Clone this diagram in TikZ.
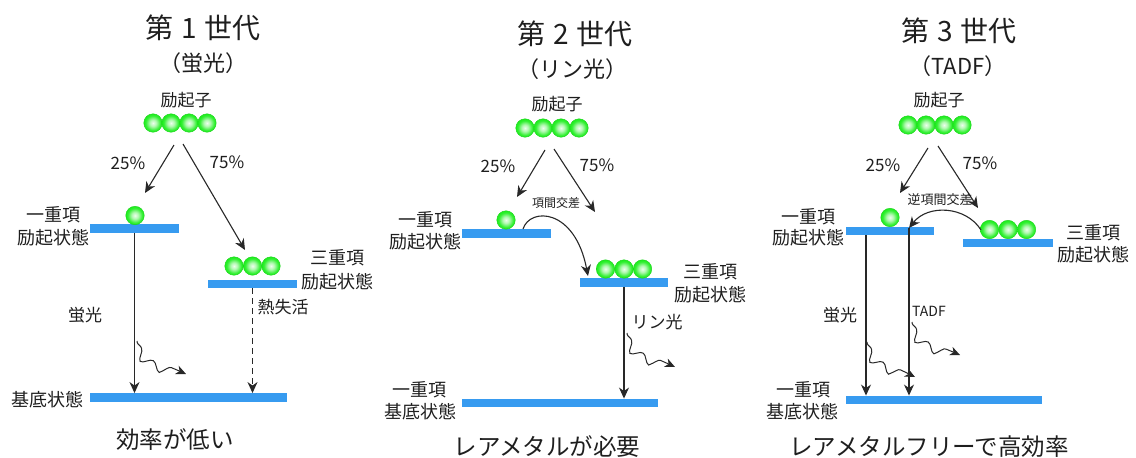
\documentclass[tikz,border=0pt]{standalone}
\usepackage{fontspec}
\setmainfont{Noto Sans CJK JP}
\usetikzlibrary{arrows.meta,decorations.pathmorphing}
\definecolor{barblue}{RGB}{55,155,240}
\definecolor{excg}{RGB}{30,238,30}
\definecolor{txt}{RGB}{30,30,30}
\definecolor{linec}{RGB}{40,40,40}
\pgfdeclareradialshading{excball}{\pgfpoint{0bp}{0bp}}{color(0bp)=(excg!8!white); color(9bp)=(excg!35!white); color(20bp)=(excg!92!white); color(25bp)=(excg); color(50bp)=(excg)}
\tikzset{
  bar/.style={fill=barblue, draw=none, inner sep=0pt, minimum height=8.5pt},
  exc/.style={circle, inner sep=0pt, minimum size=18.5pt, shading=excball, draw=excg!88!black, line width=0.4pt},
  title/.style={text=txt, inner sep=0pt, font=\fontsize{28}{30}\selectfont},
  subtitle/.style={text=txt, inner sep=0pt, font=\fontsize{22}{24}\selectfont},
  lbl/.style={text=txt, inner sep=0pt, font=\fontsize{18}{20}\selectfont},
  mid/.style={text=txt, inner sep=0pt, font=\fontsize{17}{19}\selectfont},
  small/.style={text=txt, inner sep=0pt, font=\fontsize{12}{14}\selectfont},
  concl/.style={text=txt, inner sep=0pt, font=\fontsize{23.5}{26}\selectfont},
  arr/.style={draw=linec, line width=1.1pt, -{Stealth[length=11pt,width=10pt,inset=3.5pt]}},
  darr/.style={arr, dashed, dash pattern=on 6pt off 4pt},
  wave/.style={draw=linec, line width=1pt, decorate,
    decoration={snake, amplitude=4pt, segment length=21pt, pre length=1pt, post length=8pt},
    -{Stealth[length=10pt,width=9pt,inset=3pt]}},
}
\newcommand{\tsp}{\hspace{8pt}}
\begin{document}
\begin{tikzpicture}[x=1pt,y=-1pt]
\useasboundingbox (0,0) rectangle (1136,458);

%================ Panel 1 =================
\node[title] (T1) at (203,28) {第\tsp 1\tsp 世代};
\node[subtitle] (ST1) at (203,63) {（蛍光）};
\node[mid] (EX1) at (186,100) {励起子};
\node[exc] (c1a) at (153,123) {};
\node[exc] (c1b) at (171,123) {};
\node[exc] (c1c) at (189,123) {};
\node[exc] (c1d) at (207,123) {};
\coordinate (a1s) at (174,145);
\coordinate (a1e) at (145,193);
\coordinate (b1s) at (183,144);
\coordinate (b1e) at (245,250);
\draw[arr] (a1s) -- (a1e);
\draw[arr] (b1s) -- (b1e);
\node[mid] (p25a) at (128,163) {25\%};
\node[mid] (p75a) at (227,162) {75\%};

\node[bar, minimum width=89pt] (S1) at (134.5,228.5) {};
\node[exc] (s1c) at (135,215.5) {};
\node[lbl] (S1l1) at (53,215) {一重項};
\node[lbl] (S1l2) at (53,238) {励起状態};

\node[bar, minimum width=89pt] (T1b) at (252.5,284) {};
\node[exc] (t1a) at (234,266) {};
\node[exc] (t1b) at (252.5,266) {};
\node[exc] (t1c) at (271,266) {};
\node[lbl] (T1l1) at (337,258) {三重項};
\node[lbl] (T1l2) at (337,282) {励起状態};

\node[bar, minimum width=197pt] (G1) at (188.5,397.5) {};
\node[lbl] (G1l) at (48,400) {基底状態};

\draw[arr] (S1.south) -- (G1.north -| S1.south);
\draw[darr] (T1b.south) -- (G1.north -| T1b.south);
\node[mid] (F1) at (85,315) {蛍光};
\node[mid] (H1) at (283,307) {熱失活};
\coordinate (w1s) at (137,341);
\coordinate (w1e) at (186,374);
\draw[wave] (w1s) .. controls (137,356) and (160,362) .. (w1e);
\node[concl] (C1) at (175,440) {効率が低い};

%================ Panel 2 =================
\node[title] (T2) at (575,34) {第\tsp 2\tsp 世代};
\node[subtitle] (ST2) at (572,69) {（リン光）};
\node[mid] (EX2) at (557,104) {励起子};
\node[exc] (c2a) at (525,128) {};
\node[exc] (c2b) at (543,128) {};
\node[exc] (c2c) at (561,128) {};
\node[exc] (c2d) at (579,128) {};
\coordinate (a2s) at (545,150);
\coordinate (a2e) at (517,197);
\coordinate (b2s) at (554,149);
\coordinate (b2e) at (595,212);
\draw[arr] (a2s) -- (a2e);
\draw[arr] (b2s) -- (b2e);
\node[mid] (p25b) at (498,166) {25\%};
\node[mid] (p75b) at (597,165) {75\%};
\node[small] (ISC) at (556,203) {項間交差};

\node[bar, minimum width=89pt] (S2) at (506.5,233.5) {};
\node[exc] (s2c) at (506,220) {};
\node[lbl] (S2l1) at (425,220) {一重項};
\node[lbl] (S2l2) at (425,242) {励起状態};

\node[bar, minimum width=88pt] (T2b) at (624,282.5) {};
\node[exc] (t2a) at (605.5,269) {};
\node[exc] (t2b) at (624,269) {};
\node[exc] (t2c) at (642.5,269) {};
\node[lbl] (T2l1) at (710,272) {三重項};
\node[lbl] (T2l2) at (710,295) {励起状態};

\coordinate (isc2s) at (523,229);
\coordinate (isc2e) at (588,276);
\draw[arr] (isc2s) .. controls (530,207) and (575,208) .. (isc2e);

\node[bar, minimum width=196pt] (G2) at (560,403) {};
\node[lbl] (G2l1) at (419,390) {一重項};
\node[lbl] (G2l2) at (420,412) {基底状態};
\draw[arr] (T2b.south) -- (G2.north -| T2b.south);
\node[mid] (P2) at (657,322) {リン光};
\coordinate (w2s) at (627,333);
\coordinate (w2e) at (675,367);
\draw[wave] (w2s) .. controls (627,348) and (650,355) .. (w2e);
\node[concl] (C2) at (547,447) {レアメタルが必要};

%================ Panel 3 =================
\node[title] (T3) at (959,31) {第\tsp 3\tsp 世代};
\node[subtitle] (ST3) at (958,66) {（TADF）};
\node[mid] (EX3) at (939,100) {励起子};
\node[exc] (c3a) at (908,125) {};
\node[exc] (c3b) at (926,125) {};
\node[exc] (c3c) at (944,125) {};
\node[exc] (c3d) at (962,125) {};
\coordinate (a3s) at (928,148);
\coordinate (a3e) at (900,193);
\coordinate (b3s) at (938,146);
\coordinate (b3e) at (978,208);
\draw[arr] (a3s) -- (a3e);
\draw[arr] (b3s) -- (b3e);
\node[mid] (p25c) at (883,165) {25\%};
\node[mid] (p75c) at (980,163) {75\%};
\node[small, font=\fontsize{13}{15}\selectfont] (RISC) at (940,200) {逆項間交差};

\node[bar, minimum width=88pt] (S3) at (890,231) {};
\node[exc] (s3c) at (890,217.5) {};
\node[lbl] (S3l1) at (808,217) {一重項};
\node[lbl] (S3l2) at (808,238) {励起状態};

\node[bar, minimum width=90pt] (T3b) at (1008,243) {};
\node[exc] (t3a) at (989.5,229.5) {};
\node[exc] (t3b) at (1008,229.5) {};
\node[exc] (t3c) at (1026.5,229.5) {};
\node[lbl] (T3l1) at (1093,233) {三重項};
\node[lbl] (T3l2) at (1093,255) {励起状態};

\coordinate (r3s) at (981,230);
\coordinate (r3e) at (909,228);
\draw[arr] (r3s) .. controls (966,206) and (928,204) .. (r3e);

\node[bar, minimum width=196pt] (G3) at (944,400) {};
\node[lbl] (G3l1) at (803,390) {一重項};
\node[lbl] (G3l2) at (802,412) {基底状態};
\coordinate (f3s) at (866,235);
\draw[arr] (f3s) -- (G3.north -| f3s);
\draw[arr] (r3e) -- (G3.north -| r3e);
\node[mid] (F3) at (840,315) {蛍光};
\node[text=txt, inner sep=0pt, font=\fontsize{14}{16}\selectfont] (TADF3) at (929,311) {TADF};
\coordinate (w3s) at (867,342);
\coordinate (w3e) at (915,377);
\draw[wave] (w3s) .. controls (867,357) and (890,364) .. (w3e);
\coordinate (w4s) at (912,322);
\coordinate (w4e) at (960,355);
\draw[wave] (w4s) .. controls (912,337) and (935,344) .. (w4e);
\node[concl] (C3) at (929,447) {レアメタルフリーで高効率};
\end{tikzpicture}
\end{document}
